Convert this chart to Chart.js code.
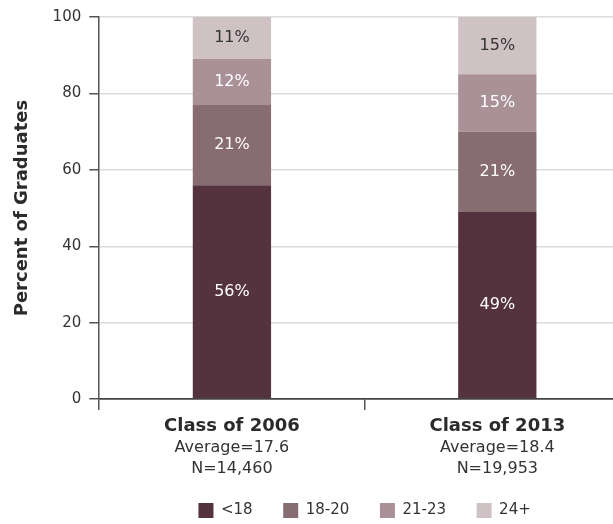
<!DOCTYPE html>
<html>
<head>
<meta charset="utf-8">
<script src="https://cdn.jsdelivr.net/npm/chart.js@4"></script>
<style>
  html, body { margin: 0; padding: 0; background: #fff; overflow: hidden; }
  #wrap { width: 630px; height: 524px; }
</style>
</head>
<body>
<div id="wrap"><canvas id="chart"></canvas></div>
<script>
const classNames = ['Class of 2006', 'Class of 2013'];
const averages = ['Average=17.6', 'Average=18.4'];
const counts = ['N=14,460', 'N=19,953'];
const ageGroups = ['<18', '18-20', '21-23', '24+'];
const under18 = [56, 49];
const age18to20 = [21, 21];
const age21to23 = [12, 15];
const age24plus = [11, 15];
const yTicks = [0, 20, 40, 60, 80, 100];

const colors = ['#55333e', '#876c72', '#a99197', '#cfc2c4'];
const labelColors = ['#fff', '#fff', '#fff', '#333'];
const fontFam = '"DejaVu Sans", sans-serif';

const seriesValues = [under18, age18to20, age21to23, age24plus];

// segment percentages inside the bars
const segmentLabels = {
  id: 'segmentLabels',
  afterDatasetsDraw(chart) {
    const ctx = chart.ctx;
    ctx.save();
    ctx.font = '16px ' + fontFam;
    ctx.textAlign = 'center';
    ctx.textBaseline = 'middle';
    chart.data.datasets.forEach((ds, di) => {
      chart.getDatasetMeta(di).data.forEach((bar, i) => {
        const p = bar.getProps(['x', 'y', 'base'], true);
        ctx.fillStyle = labelColors[di];
        ctx.fillText(ds.data[i] + '%', p.x, (p.y + p.base) / 2);
      });
    });
    ctx.restore();
  }
};

// three-line category labels, first line bold
const categoryLabels = {
  id: 'categoryLabels',
  afterDraw(chart) {
    const ctx = chart.ctx;
    const xs = chart.scales.x;
    const top = chart.chartArea.bottom;
    ctx.save();
    ctx.textAlign = 'center';
    ctx.textBaseline = 'alphabetic';
    classNames.forEach((name, i) => {
      const x = xs.getPixelForValue(i);
      ctx.fillStyle = '#2b2b2b';
      ctx.font = 'bold 18px ' + fontFam;
      ctx.fillText(name, x, top + 32);
      ctx.fillStyle = '#333';
      ctx.font = '16px ' + fontFam;
      ctx.fillText(averages[i], x, top + 53);
      ctx.fillText(counts[i], x, top + 74);
    });
    ctx.restore();
  }
};

new Chart(document.getElementById('chart'), {
  type: 'bar',
  data: {
    labels: classNames,
    datasets: ageGroups.map((g, i) => ({
      label: g,
      data: seriesValues[i],
      backgroundColor: colors[i],
      borderWidth: 0,
      categoryPercentage: 1,
      barPercentage: 0.295
    }))
  },
  options: {
    responsive: true,
    maintainAspectRatio: false,
    animation: false,
    layout: { padding: { top: 0, right: 0, left: 8, bottom: -4 } },
    scales: {
      x: {
        stacked: true,
        grid: {
          offset: true,
          drawOnChartArea: false,
          tickLength: 11,
          tickColor: '#555',
          lineWidth: 1.5
        },
        border: { color: '#444', width: 1.5 },
        ticks: {
          color: 'rgba(0,0,0,0)',
          font: { size: 16, family: fontFam, lineHeight: 1.81 },
          callback: (v, i) => [classNames[i], averages[i], counts[i]],
          padding: 2
        }
      },
      y: {
        stacked: true,
        min: 0,
        max: 100,
        afterBuildTicks: (s) => { s.ticks = yTicks.map(v => ({ value: v })); },
        grid: {
          color: (c) => c.tick && c.tick.value === 0 ? '#444' : '#dcdcdc',
          tickColor: '#555',
          tickLength: 10,
          lineWidth: 1.5
        },
        border: { color: '#555', width: 1.5 },
        ticks: {
          color: '#333',
          font: { size: 15, family: fontFam },
          padding: 8
        },
        title: {
          display: true,
          text: 'Percent of Graduates',
          color: '#2b2b2b',
          font: { size: 18, weight: 'bold', family: fontFam },
          padding: { top: 4, bottom: 11 }
        }
      }
    },
    plugins: {
      legend: {
        position: 'bottom',
        fullSize: false,
        labels: {
          boxWidth: 15,
          boxHeight: 15,
          padding: 2,
          color: '#333',
          font: { size: 15, family: fontFam },
          generateLabels: (chart) => {
            const items = Chart.defaults.plugins.legend.labels.generateLabels(chart);
            items.forEach((it, i) => {
              if (i < items.length - 1) it.text = it.text + '      ';
            });
            return items;
          }
        }
      },
      tooltip: { enabled: false }
    }
  },
  plugins: [segmentLabels, categoryLabels]
});
</script>
</body>
</html>
